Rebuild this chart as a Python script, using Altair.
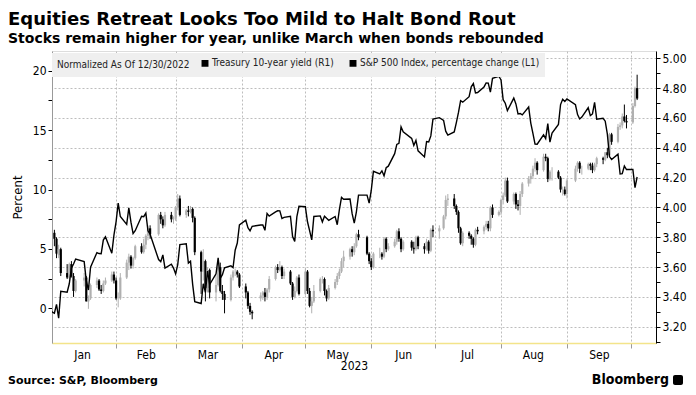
import altair as alt
import pandas as pd

TITLE = "Equities Retreat Looks Too Mild to Halt Bond Rout"
SUBTITLE = "Stocks remain higher for year, unlike March when bonds rebounded"
SOURCE = "Source: S&P, Bloomberg"
BRAND = "Bloomberg"
LEGEND_TITLE = "Normalized As Of 12/30/2022"
SERIES = ["Treasury 10-year yield (R1)", "S&P 500 Index, percentage change (L1)"]

# trading days, 2023
trading_days = {
    1: [3, 4, 5, 6, 9, 10, 11, 12, 13, 17, 18, 19, 20, 23, 24, 25, 26, 27, 30, 31],
    2: [1, 2, 3, 6, 7, 8, 9, 10, 13, 14, 15, 16, 17, 21, 22, 23, 24, 27, 28],
    3: [1, 2, 3, 6, 7, 8, 9, 10, 13, 14, 15, 16, 17, 20, 21, 22, 23, 24, 27, 28, 29, 30, 31],
    4: [3, 4, 5, 6, 10, 11, 12, 13, 14, 17, 18, 19, 20, 21, 24, 25, 26, 27, 28],
    5: [1, 2, 3, 4, 5, 8, 9, 10, 11, 12, 15, 16, 17, 18, 19, 22, 23, 24, 25, 26, 30, 31],
    6: [1, 2, 5, 6, 7, 8, 9, 12, 13, 14, 15, 16, 20, 21, 22, 23, 26, 27, 28, 29, 30],
    7: [3, 5, 6, 7, 10, 11, 12, 13, 14, 17, 18, 19, 20, 21, 24, 25, 26, 27, 28, 31],
    8: [1, 2, 3, 4, 7, 8, 9, 10, 11, 14, 15, 16, 17, 18, 21, 22, 23, 24, 25, 28, 29, 30, 31],
    9: [1, 5, 6, 7, 8, 11, 12, 13, 14, 15, 18, 19, 20, 21, 22, 25, 26, 27, 28, 29],
    10: [2, 3, 4],
}
dates = [f"2023-{m:02d}-{d:02d}" for m, ds in trading_days.items() for d in ds]

spx_base_date = "2022-12-30"
spx_base = 0.0
spx_pct = [
    -0.40, 0.35, -0.82, 1.45, 1.37, 2.08, 3.39, 3.74, 4.16, 3.94, 2.33, 1.55, 3.47, 4.70, 4.62, 4.60, 5.75, 6.02, 4.64, 6.17,
    7.28, 8.86, 7.73, 7.07, 8.45, 7.25, 6.30, 6.54, 7.75, 7.72, 8.02, 6.53, 6.24, 4.11, 3.94, 4.50, 3.40, 3.72, 3.40,
    2.91, 3.69, 5.37, 5.44, 3.82, 3.97, 2.05, 0.58, 0.42, 2.08, 1.36, 3.15, 2.01, 2.92, 4.25, 2.54, 2.84, 3.42, 3.59, 3.43, 4.90, 5.50, 7.03,
    7.42, 6.80, 6.53, 6.91, 7.02, 7.02, 6.57, 7.99, 7.76, 8.12, 8.21, 8.20, 7.56, 7.66, 7.75, 6.05, 5.64, 7.70, 8.59,
    8.55, 7.29, 6.54, 5.77, 7.73, 7.78, 7.28, 7.76, 7.58, 7.41, 7.73, 7.04, 8.31, 9.34, 9.18, 9.20, 7.97, 7.18, 8.12, 9.53, 9.53, 8.86,
    9.94, 11.53, 11.31, 11.57, 11.15, 11.83, 11.96, 13.01, 13.79, 13.88, 15.27, 14.85, 14.30, 13.70, 14.13, 13.25, 12.74, 14.03, 13.99, 14.50, 15.91,
    16.04, 15.81, 14.90, 14.57, 14.84, 15.62, 16.48, 17.46, 17.34, 17.80, 18.63, 18.91, 18.11, 18.15, 18.62, 18.96, 18.94, 18.18, 19.34, 19.52,
    19.20, 17.55, 17.25, 16.63, 17.68, 17.19, 16.36, 16.39, 16.27, 16.93, 15.58, 14.71, 13.82, 13.81, 14.59, 14.27, 15.53, 13.98, 14.74, 15.47, 17.14, 17.59, 17.40,
    17.61, 17.12, 16.30, 15.93, 16.09, 16.87, 16.21, 16.35, 17.33, 15.91, 15.99, 15.74, 14.65, 12.77, 12.52, 12.97, 11.30, 11.33, 11.98, 11.68,
    11.69, 10.15, 11.05,
]

y_open = [
    3.83, 3.79, 3.68, 3.72, 3.56, 3.53, 3.62, 3.54, 3.44, 3.51, 3.53, 3.37, 3.39, 3.48, 3.51, 3.45, 3.44, 3.49, 3.51, 3.55,
    3.51, 3.39, 3.39, 3.53, 3.63, 3.67, 3.61, 3.66, 3.74, 3.70, 3.75, 3.81, 3.86, 3.82, 3.95, 3.92, 3.88, 3.95, 3.92,
    3.92, 4.00, 4.06, 3.95, 3.98, 3.97, 3.99, 3.93, 3.70, 3.57, 3.64, 3.46, 3.58, 3.43, 3.48, 3.60, 3.44, 3.42, 3.38, 3.53, 3.57, 3.57, 3.55,
    3.47, 3.43, 3.34, 3.30, 3.39, 3.41, 3.43, 3.40, 3.45, 3.52, 3.60, 3.58, 3.60, 3.54, 3.57, 3.49, 3.40, 3.44, 3.53,
    3.42, 3.57, 3.44, 3.34, 3.37, 3.44, 3.52, 3.52, 3.44, 3.39, 3.46, 3.50, 3.54, 3.57, 3.64, 3.67, 3.72, 3.70, 3.74, 3.82, 3.80, 3.69,
    3.64, 3.60, 3.69, 3.69, 3.67, 3.79, 3.72, 3.74, 3.77, 3.84, 3.79, 3.72, 3.77, 3.73, 3.72, 3.80, 3.74, 3.72, 3.77, 3.71, 3.85,
    3.84, 3.86, 3.94, 4.05, 4.06, 4.01, 3.97, 3.86, 3.76, 3.83, 3.81, 3.79, 3.75, 3.85, 3.84, 3.87, 3.89, 3.86, 4.00, 3.95,
    3.97, 4.05, 4.08, 4.18, 4.04, 4.09, 4.02, 4.01, 4.09, 4.16, 4.19, 4.21, 4.26, 4.30, 4.25, 4.34, 4.33, 4.19, 4.24, 4.24, 4.20, 4.12, 4.12,
    4.09, 4.18, 4.26, 4.30, 4.26, 4.26, 4.29, 4.28, 4.25, 4.29, 4.33, 4.32, 4.37, 4.35, 4.49, 4.44, 4.54, 4.55, 4.61, 4.58,
    4.57, 4.68, 4.80,
]
y_high = [
    3.85, 3.80, 3.75, 3.73, 3.62, 3.63, 3.64, 3.56, 3.52, 3.56, 3.54, 3.41, 3.49, 3.53, 3.52, 3.48, 3.51, 3.53, 3.57, 3.57,
    3.53, 3.43, 3.56, 3.65, 3.69, 3.68, 3.67, 3.75, 3.76, 3.79, 3.82, 3.88, 3.88, 3.96, 3.97, 3.94, 3.97, 3.97, 3.94,
    4.01, 4.09, 4.08, 3.99, 4.01, 4.01, 4.00, 3.94, 3.71, 3.72, 3.65, 3.60, 3.59, 3.55, 3.63, 3.63, 3.48, 3.44, 3.55, 3.58, 3.59, 3.58, 3.56,
    3.49, 3.44, 3.36, 3.31, 3.43, 3.44, 3.46, 3.46, 3.54, 3.61, 3.62, 3.64, 3.61, 3.59, 3.58, 3.50, 3.47, 3.54, 3.55,
    3.59, 3.58, 3.46, 3.40, 3.48, 3.53, 3.54, 3.53, 3.45, 3.48, 3.52, 3.56, 3.59, 3.66, 3.71, 3.73, 3.74, 3.76, 3.83, 3.85, 3.81, 3.70,
    3.66, 3.70, 3.73, 3.70, 3.80, 3.80, 3.76, 3.79, 3.85, 3.86, 3.80, 3.78, 3.78, 3.77, 3.81, 3.81, 3.76, 3.79, 3.78, 3.86, 3.88,
    3.88, 3.95, 4.08, 4.09, 4.09, 4.02, 3.98, 3.87, 3.84, 3.84, 3.82, 3.80, 3.86, 3.87, 3.88, 3.91, 3.91, 4.01, 4.02, 3.98,
    4.06, 4.10, 4.20, 4.20, 4.10, 4.10, 4.05, 4.11, 4.17, 4.21, 4.23, 4.28, 4.33, 4.31, 4.36, 4.36, 4.34, 4.25, 4.27, 4.25, 4.21, 4.14, 4.14,
    4.19, 4.28, 4.31, 4.31, 4.28, 4.30, 4.30, 4.30, 4.30, 4.34, 4.34, 4.37, 4.40, 4.50, 4.50, 4.56, 4.57, 4.63, 4.69, 4.62,
    4.70, 4.81, 4.89,
]
y_low = [
    3.74, 3.66, 3.66, 3.54, 3.52, 3.52, 3.53, 3.40, 3.43, 3.47, 3.37, 3.32, 3.38, 3.46, 3.44, 3.42, 3.43, 3.48, 3.50, 3.49,
    3.38, 3.33, 3.38, 3.52, 3.58, 3.59, 3.59, 3.65, 3.69, 3.69, 3.72, 3.78, 3.79, 3.81, 3.89, 3.86, 3.87, 3.90, 3.89,
    3.91, 3.98, 3.94, 3.93, 3.94, 3.96, 3.90, 3.68, 3.42, 3.51, 3.37, 3.43, 3.39, 3.37, 3.47, 3.43, 3.38, 3.29, 3.37, 3.51, 3.54, 3.53, 3.46,
    3.39, 3.32, 3.28, 3.25, 3.37, 3.38, 3.37, 3.38, 3.43, 3.51, 3.56, 3.57, 3.52, 3.52, 3.48, 3.38, 3.39, 3.43, 3.41,
    3.41, 3.42, 3.33, 3.29, 3.36, 3.43, 3.49, 3.41, 3.37, 3.38, 3.45, 3.48, 3.52, 3.56, 3.60, 3.65, 3.67, 3.68, 3.73, 3.78, 3.68, 3.62,
    3.58, 3.59, 3.66, 3.65, 3.66, 3.70, 3.71, 3.73, 3.75, 3.77, 3.70, 3.71, 3.71, 3.69, 3.71, 3.72, 3.69, 3.71, 3.69, 3.70, 3.80,
    3.79, 3.85, 3.92, 4.01, 3.99, 3.95, 3.83, 3.75, 3.74, 3.79, 3.75, 3.73, 3.74, 3.82, 3.82, 3.85, 3.84, 3.84, 3.93, 3.94,
    3.95, 4.02, 4.07, 4.03, 4.02, 3.99, 3.98, 3.95, 4.07, 4.14, 4.16, 4.19, 4.24, 4.22, 4.24, 4.31, 4.17, 4.18, 4.18, 4.19, 4.10, 4.08, 4.08,
    4.06, 4.17, 4.24, 4.23, 4.22, 4.25, 4.25, 4.23, 4.24, 4.27, 4.29, 4.31, 4.33, 4.34, 4.42, 4.43, 4.52, 4.53, 4.57, 4.53,
    4.56, 4.67, 4.72,
]
y_close = [
    3.79, 3.69, 3.72, 3.56, 3.53, 3.62, 3.54, 3.44, 3.51, 3.53, 3.37, 3.39, 3.48, 3.51, 3.45, 3.44, 3.49, 3.51, 3.55, 3.51,
    3.39, 3.39, 3.53, 3.63, 3.67, 3.61, 3.66, 3.74, 3.70, 3.75, 3.81, 3.86, 3.82, 3.95, 3.92, 3.88, 3.95, 3.92, 3.92,
    4.00, 4.06, 3.95, 3.98, 3.97, 3.99, 3.93, 3.70, 3.57, 3.64, 3.46, 3.58, 3.43, 3.48, 3.60, 3.44, 3.42, 3.38, 3.53, 3.57, 3.57, 3.55, 3.47,
    3.43, 3.34, 3.30, 3.29, 3.41, 3.43, 3.40, 3.45, 3.52, 3.60, 3.58, 3.60, 3.54, 3.57, 3.49, 3.40, 3.44, 3.53, 3.42,
    3.57, 3.44, 3.34, 3.37, 3.44, 3.52, 3.52, 3.44, 3.39, 3.46, 3.50, 3.54, 3.57, 3.64, 3.67, 3.72, 3.70, 3.74, 3.82, 3.80, 3.69, 3.64,
    3.60, 3.69, 3.69, 3.67, 3.79, 3.72, 3.74, 3.77, 3.84, 3.79, 3.72, 3.77, 3.73, 3.72, 3.80, 3.74, 3.72, 3.77, 3.71, 3.85, 3.84,
    3.86, 3.94, 4.05, 4.06, 4.01, 3.97, 3.86, 3.76, 3.83, 3.81, 3.79, 3.75, 3.85, 3.84, 3.87, 3.89, 3.86, 4.00, 3.95, 3.97,
    4.05, 4.08, 4.18, 4.04, 4.09, 4.02, 4.01, 4.09, 4.16, 4.19, 4.21, 4.26, 4.30, 4.25, 4.34, 4.33, 4.19, 4.24, 4.24, 4.20, 4.12, 4.12, 4.09,
    4.18, 4.26, 4.30, 4.26, 4.26, 4.29, 4.28, 4.25, 4.29, 4.33, 4.32, 4.37, 4.35, 4.49, 4.44, 4.54, 4.55, 4.61, 4.58, 4.57,
    4.68, 4.80, 4.73,
]

left_ticks = [0, 2.5, 5, 7.5, 10, 12.5, 15, 17.5, 20]
right_ticks = [3.1, 3.2, 3.3, 3.4, 3.5, 3.6, 3.7, 3.8, 3.9, 4.0,
               4.1, 4.2, 4.3, 4.4, 4.5, 4.6, 4.7, 4.8, 4.9, 5.0]
month_starts = [(2, 1), (3, 1), (4, 1), (5, 1), (6, 1), (7, 1), (8, 1), (9, 1), (10, 1)]
month_mids = [(1, 16), (2, 15), (3, 16), (4, 16), (5, 16), (6, 16), (7, 16), (8, 16), (9, 16)]

FONT = "DejaVu Sans Condensed, Liberation Sans Narrow, Liberation Sans, sans-serif"
TFONT = "DejaVu Sans, Liberation Sans, sans-serif"

df_y = pd.DataFrame({"date": dates, "o": y_open, "h": y_high, "l": y_low, "c": y_close})
df_s = pd.DataFrame({
    "date": [spx_base_date] + dates,
    "pct": [spx_base] + spx_pct,
    "series": SERIES[1],
})

x_vals = [alt.DateTime(year=2023, month=m, date=d, utc=True) for m, d in month_starts + month_mids]
x_domain = [alt.DateTime(year=2023, month=1, date=1, hours=21, utc=True),
            alt.DateTime(year=2023, month=10, date=12, hours=21, utc=True)]
is_start = "utcdate(datum.value) == 1"

x_enc = alt.X(
    "date:T",
    scale=alt.Scale(type="utc", domain=x_domain),
    axis=alt.Axis(
        values=x_vals,
        labelExpr=f"{is_start} ? '' : utcFormat(datum.value, '%b')",
        tickOpacity={"condition": {"test": is_start, "value": 1}, "value": 0},
        gridOpacity={"condition": {"test": is_start, "value": 1}, "value": 0},
        grid=True, gridDash=[2, 2], gridColor="#bdbdbd",
        domainColor="#f3e48a", domainWidth=1.5,
        tickColor="#9a9a9a", tickSize=5,
        labelFont=FONT, labelFontSize=12, labelColor="#000", labelPadding=1,
        title="2023", titleFont=FONT, titleFontSize=12, titleFontWeight="normal",
        titleColor="#000", titlePadding=0,
    ),
)

r_scale = alt.Scale(domain=[3.091, 5.049], nice=False, zero=False)
even = "round(datum.value * 10) % 2 == 0"
r_axis = alt.Axis(
    orient="right", values=right_ticks,
    labelExpr=f"{even} ? format(datum.value, '.2f') : ''",
    grid=True, gridDash=[2, 2], gridColor="#bdbdbd",
    gridOpacity={"condition": {"test": even, "value": 1}, "value": 0},
    tickColor="#000", tickSize=4, domainColor="#000",
    labelFont=FONT, labelFontSize=12, labelColor="#000", labelPadding=2,
    title=None,
)

dir_color = alt.Color(
    "dir:N",
    scale=alt.Scale(domain=["up", "down"], range=["#b0b0b0", "#000000"]),
    legend=None,
)

base_y = alt.Chart(df_y).transform_calculate(dir="datum.c >= datum.o ? 'up' : 'down'")
wick = base_y.mark_rule(strokeWidth=1, clip=True).encode(
    x=x_enc, y=alt.Y("l:Q", scale=r_scale, axis=r_axis), y2="h:Q", color=dir_color
)
body = base_y.mark_rule(strokeWidth=2.2, clip=True).encode(
    x=x_enc, y=alt.Y("o:Q", scale=r_scale, axis=r_axis), y2="c:Q", color=dir_color
)
candles = alt.layer(wick, body)

line = alt.Chart(df_s).mark_line(strokeWidth=1.4, clip=True).encode(
    x=x_enc,
    y=alt.Y(
        "pct:Q",
        scale=alt.Scale(domain=[-2.90, 21.64], nice=False, zero=False),
        axis=alt.Axis(
            orient="left", values=left_ticks,
            labelExpr="datum.value % 5 == 0 ? format(datum.value, 'd') : ''",
            grid=False, tickColor="#000", tickSize=4, domainColor="#999",
            labelFont=FONT, labelFontSize=12, labelColor="#000", labelPadding=2,
            title="Percent", titleFont=FONT, titleFontSize=13, titleFontWeight="normal",
            titleColor="#000", titlePadding=8,
        ),
    ),
    color=alt.Color(
        "series:N",
        scale=alt.Scale(domain=SERIES, range=["#000000", "#000000"]),
        legend=alt.Legend(
            title=LEGEND_TITLE, orient="none", legendX=0, legendY=2,
            direction="horizontal", titleOrient="left",
            titleFont=FONT, titleFontSize=10, titleFontWeight="normal", titleColor="#222",
            titlePadding=10, titleBaseline="middle",
            labelFont=FONT, labelFontSize=10, labelColor="#222", labelOffset=2,
            labelLimit=400, columnPadding=10,
            symbolType="square", symbolSize=14, symbolStrokeWidth=3.2,
            symbolFillColor="#000", symbolStrokeColor="#000",
            fillColor="#efefef", padding=5,
        ),
    ),
)

source = alt.Chart(pd.DataFrame({"t": [SOURCE]})).mark_text(
    align="left", baseline="middle", fontSize=11, fontWeight="bold", font=TFONT, color="#000"
).encode(x=alt.value(-44), y=alt.value(330), text="t:N")

brand = alt.Chart(pd.DataFrame({"t": [BRAND]})).mark_text(
    align="right", baseline="middle", fontSize=14, fontWeight="bold", font=FONT, color="#000"
).encode(x=alt.value(617), y=alt.value(329), text="t:N")

logo = alt.Chart(pd.DataFrame({"t": [BRAND]})).mark_rect(color="#000", cornerRadius=2).encode(
    x=alt.value(621), x2=alt.value(631), y=alt.value(324), y2=alt.value(334)
)

chart = alt.layer(candles, line, source, brand, logo).resolve_scale(
    y="independent", color="independent"
).properties(
    width=604,
    height=292,
    autosize=alt.AutoSizeParams(type="none"),
    padding={"left": 44, "top": 43, "right": 32, "bottom": 44},
    title=alt.Title(
        TITLE, subtitle=SUBTITLE, anchor="start", frame="bounds",
        font=TFONT, fontSize=18, fontWeight="bold", color="#000",
        subtitleFont=TFONT, subtitleFontSize=14, subtitleFontWeight="bold",
        subtitleColor="#000", subtitlePadding=3, offset=5,
    ),
).configure_view(stroke=None).configure(background="#ffffff")

chart.save("out.html", embed_options={"renderer": "svg", "actions": False})
